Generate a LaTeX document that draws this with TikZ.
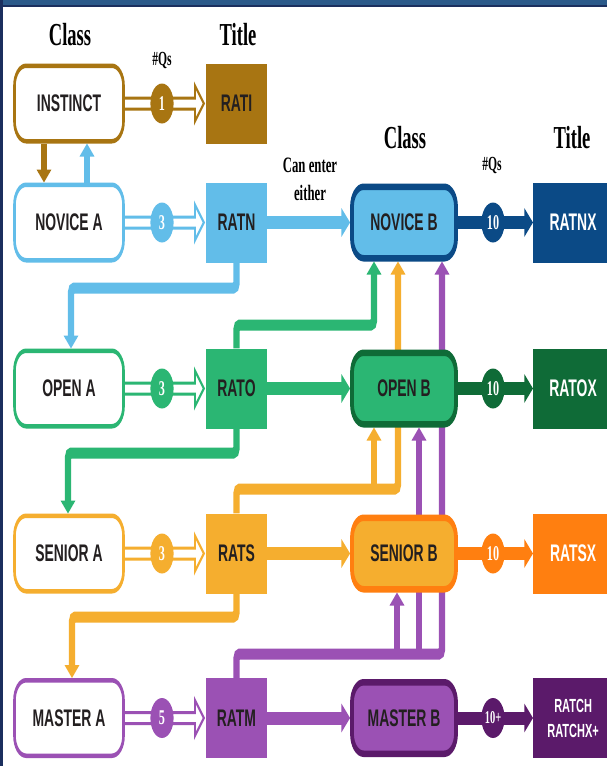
\documentclass[tikz,border=0pt]{standalone}
\usepackage{fontspec}
\setmainfont{Liberation Serif}
\setsansfont{Liberation Sans}
\usetikzlibrary{arrows.meta,calc}
\pgfdeclarelayer{bg}
\pgfsetlayers{bg,main}
\definecolor{brn}{HTML}{A87512}
\definecolor{lblue}{HTML}{62BDE9}
\definecolor{navy}{HTML}{0B4A86}
\definecolor{grn}{HTML}{2BB673}
\definecolor{dgrn}{HTML}{0F6B37}
\definecolor{amb}{HTML}{F5AE2F}
\definecolor{org}{HTML}{FF7F10}
\definecolor{pur}{HTML}{9B51B4}
\definecolor{dpur}{HTML}{5B1A6A}
\definecolor{ink}{HTML}{231F20}
\definecolor{frameA}{HTML}{2B5A8A}
\definecolor{frameB}{HTML}{1B2F5E}
\tikzset{
  cnv/.style={transform canvas={xscale=0.58}, x={(1.72414pt,0pt)}, y={(0pt,-1pt)}},
  lab/.style={font=\sffamily\bfseries\fontsize{24}{26}\selectfont, text=ink, inner sep=0pt},
  abox/.style={lab, draw=#1, line width=4.5pt, fill=white, rounded corners=20pt,
    minimum width={109pt/0.58}, minimum height=75.5pt},
  rbox/.style={lab, fill=#1, minimum width={61pt/0.58}, minimum height=80pt},
  bbox/.style 2 args={lab, fill=#1, draw=#2, line width=6.5pt, rounded corners=20pt,
    minimum width={104pt/0.58}, minimum height=71.5pt},
  xbox/.style={lab, fill=#1, text=white, minimum width={80pt/0.58}, minimum height=80pt, anchor=west},
  qc/.style={circle, fill=#1, minimum size=40pt, inner sep=0pt, text=white,
    font=\bfseries\fontsize{21}{22}\selectfont},
  hd/.style={font=\bfseries\fontsize{32}{34}\selectfont, text=black, inner sep=0pt},
  qs/.style={font=\bfseries\fontsize{20}{22}\selectfont, text=black, inner sep=0pt},
  bus/.style={line width=11pt, rounded corners=5pt, -{Triangle[length=13pt,width=25pt]}},
  busbranch/.style={line width=11pt, -{Triangle[length=13pt,width=25pt]}},
  thk/.style={line width=13pt, -{Triangle[length=15pt,width=28pt]}},
  dbl/.style={draw=#1, fill=white, line width=3pt, line join=miter},
}
\newcommand\dblarr[3]{%
  \draw[dbl=#3] ($(#1.east)+(-3,-5.5)$) -- ($(#2.west)+(-11,-5.5)$) -- ($(#2.west)+(-11,-18)$)
    -- ($(#2.west)+(-2,0)$) -- ($(#2.west)+(-11,18)$) -- ($(#2.west)+(-11,5.5)$)
    -- ($(#1.east)+(-3,5.5)$) -- cycle;}
\begin{document}
\begin{tikzpicture}
\useasboundingbox (0,0) rectangle (607pt,-766pt);
\begin{scope}[cnv]
  % column A
  \node[abox=brn]   (instinct) at (69,103.5) {INSTINCT};
  \node[abox=lblue] (noviceA)  at (69,222.5) {NOVICE A};
  \node[abox=grn]   (openA)    at (69,388.5) {OPEN A};
  \node[abox=amb]   (seniorA)  at (69,553.5) {SENIOR A};
  \node[abox=pur]   (masterA)  at (69,718)   {MASTER A};
  % titles level 1
  \node[rbox=brn]   (rati) at (236.5,103.5) {RATI};
  \node[rbox=lblue] (ratn) at (236.5,222.5) {RATN};
  \node[rbox=grn]   (rato) at (236.5,388.5) {RATO};
  \node[rbox=amb]   (rats) at (236.5,553.5) {RATS};
  \node[rbox=pur]   (ratm) at (236.5,718)   {RATM};
  % column B
  \node[bbox={lblue}{navy}] (noviceB) at (404,222.5) {NOVICE B};
  \node[bbox={grn}{dgrn}]   (openB)   at (404,388.5) {OPEN B};
  \node[bbox={amb}{org}]    (seniorB) at (404,553.5) {SENIOR B};
  \node[bbox={pur}{dpur}]   (masterB) at (404,718)   {MASTER B};
  % titles level 2
  \node[xbox=navy] (ratnx) at (533,222.5) {RATNX};
  \node[xbox=dgrn] (ratox) at (533,388.5) {RATOX};
  \node[xbox=org]  (ratsx) at (533,553.5) {RATSX};
  \node[xbox=dpur, align=center, font=\sffamily\bfseries\fontsize{19}{25}\selectfont]
    (ratch) at (533,718) {RATCH\\RATCHX+};
  % question circles
  \node[qc=brn]   (q1) at (162,103.5) {1};
  \node[qc=lblue] (q2) at (162,222.5) {3};
  \node[qc=grn]   (q3) at (162,388.5) {3};
  \node[qc=amb]   (q4) at (162,553.5) {3};
  \node[qc=pur]   (q5) at (162,718)   {5};
  \node[qc=navy]  (q6) at (493,222.5) {10};
  \node[qc=dgrn]  (q7) at (493,388.5) {10};
  \node[qc=org]   (q8) at (493,553.5) {10};
  \node[qc=dpur, font=\bfseries\fontsize{18}{20}\selectfont] (q9) at (493,718) {10+};
  % headings
  \node[hd] (hc1) at (70,35) {Class};
  \node[hd] (ht1) at (238,35) {Title};
  \node[qs] (hq1) at (162,60) {\#Qs};
  \node[hd] (hc2) at (405,138) {Class};
  \node[hd] (ht2) at (572,138) {Title};
  \node[qs] (hq2) at (492,165) {\#Qs};
  \node[qs, font=\bfseries\fontsize{22}{24}\selectfont] (ce1) at (310,165) {Can enter};
  \node[qs, font=\bfseries\fontsize{22}{24}\selectfont] (ce2) at (310,193) {either};
  % junction coordinates
  \coordinate (xa) at (44,0);
  \coordinate (xb) at (87,0);
  \coordinate (j1) at (71,288);
  \coordinate (j2) at (68,453);
  \coordinate (j3) at (72,617);
  \coordinate (j4) at (374,325);
  \coordinate (j5) at (398,489);
  \coordinate (j6) at (374,489);
  \coordinate (j7) at (442,654);
  \coordinate (j8) at (397,654);
  \coordinate (j9) at (419,654);
\end{scope}
\begin{pgfonlayer}{bg}
  \fill[white] (0,0) rectangle (607pt,-766pt);
  \fill[frameA] (0,0) rectangle (607pt,-5pt);
  \fill[frameB] (0,-5pt) rectangle (607pt,-6.5pt);
  \fill[frameB] (0,0) rectangle (3pt,-766pt);
  \begin{scope}[cnv]
    \draw[bus, brn] (instinct.south -| xa) -- (noviceA.north -| xa);
    \draw[bus, lblue] (noviceA.north -| xb) -- (instinct.south -| xb);
    \draw[bus, lblue] (ratn.south) |- (j1) -- (openA.north -| j1);
    \draw[bus, grn] (rato.south) |- (j2) -- (seniorA.north -| j2);
    \draw[bus, amb] (rats.south) |- (j3) -- (masterA.north -| j3);
    \draw[bus, grn] (rato.north) |- (j4) -- (noviceB.south -| j4);
    \draw[bus, amb] (rats.north) |- (j5) -- (noviceB.south -| j5);
    \draw[busbranch, amb] (j6) -- (openB.south -| j6);
    \draw[bus, pur] (ratm.north) |- (j7) -- (noviceB.south -| j7);
    \draw[busbranch, pur] (j8) -- (seniorB.south -| j8);
    \draw[busbranch, pur] (j9) -- (openB.south -| j9);
    \draw[thk, lblue] (ratn.east) -- (noviceB.west);
    \draw[thk, grn] (rato.east) -- (openB.west);
    \draw[thk, amb] (rats.east) -- (seniorB.west);
    \draw[thk, pur] (ratm.east) -- (masterB.west);
    \draw[thk, navy] (noviceB.east) -- (ratnx.west);
    \draw[thk, dgrn] (openB.east) -- (ratox.west);
    \draw[thk, org] (seniorB.east) -- (ratsx.west);
    \draw[thk, dpur] (masterB.east) -- (ratch.west);
    \dblarr{instinct}{rati}{brn}
    \dblarr{noviceA}{ratn}{lblue}
    \dblarr{openA}{rato}{grn}
    \dblarr{seniorA}{rats}{amb}
    \dblarr{masterA}{ratm}{pur}
  \end{scope}
\end{pgfonlayer}
\end{tikzpicture}
\end{document}
